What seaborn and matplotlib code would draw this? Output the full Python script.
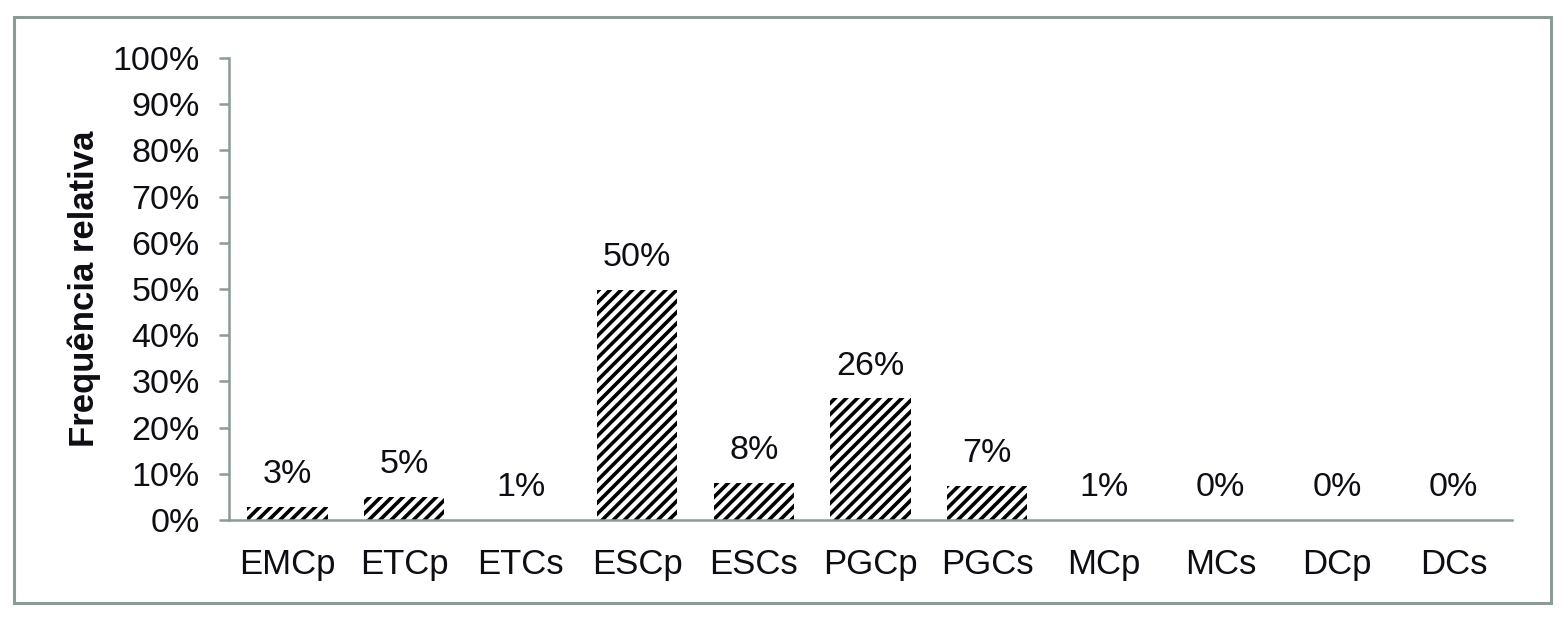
#!/usr/bin/env python3
"""Relative frequency bar chart with hatched bars."""

import matplotlib

matplotlib.use("Agg")

import matplotlib.pyplot as plt
import numpy as np
import seaborn as sns
from matplotlib.patches import Rectangle
from matplotlib.ticker import FixedLocator, PercentFormatter

categories = ["EMCp", "ETCp", "ETCs", "ESCp", "ESCs", "PGCp", "PGCs", "MCp", "MCs", "DCp", "DCs"]
values = [2.8, 5.0, 0.1, 49.8, 8.0, 26.3, 7.4, 0.1, 0.0, 0.0, 0.0]
value_labels = ["3%", "5%", "1%", "50%", "8%", "26%", "7%", "1%", "0%", "0%", "0%"]
y_ticks = list(range(0, 101, 10))

AXIS_GREY = "#8c9a98"
TEXT = "#0d0d14"

sns.set_style("white")
plt.rcParams["font.family"] = ["Liberation Sans", "DejaVu Sans"]
plt.rcParams["hatch.linewidth"] = 2.6
plt.rcParams["hatch.color"] = "black"

fig = plt.figure(figsize=(15.68, 6.2), dpi=100)
ax = fig.add_axes([229 / 1568, 100 / 620, 1283 / 1568, 462 / 620])

sns.barplot(
    x=categories,
    y=values,
    color="white",
    edgecolor="black",
    linewidth=0,
    width=0.69,
    hatch="///",
    saturation=1,
    ax=ax,
)

ax.bar_label(ax.containers[0], labels=value_labels, padding=12, fontsize=24.5, color=TEXT)

ax.set_xlim(-0.5, len(categories) - 0.5)
ax.set_ylim(0, 100)
ax.set_yticks(y_ticks)
ax.yaxis.set_major_formatter(PercentFormatter(decimals=0))

# Category boundaries get the small tick marks, labels sit in between
ax.xaxis.set_minor_locator(FixedLocator(np.arange(-0.5, len(categories), 1.0)))
ax.tick_params(axis="x", which="major", length=0, pad=20, labelsize=25, labelcolor=TEXT)
ax.tick_params(axis="x", which="minor", length=5, width=1.8, color=AXIS_GREY, direction="out")
ax.tick_params(axis="y", length=7, width=1.8, color=AXIS_GREY, direction="out", pad=14,
               labelsize=24.5, labelcolor=TEXT, left=True)

for side in ["top", "right"]:
    ax.spines[side].set_visible(False)
for side in ["left", "bottom"]:
    ax.spines[side].set_color(AXIS_GREY)
    ax.spines[side].set_linewidth(1.8)

ax.set_xlabel("")
ax.set_ylabel("Frequência relativa", fontsize=25, fontweight="bold", color=TEXT)
ax.yaxis.set_label_coords(-0.1, 0.5)

# Outer chart frame
fig.patches.append(
    Rectangle((14 / 1568, 17 / 620), 1537 / 1568, 586 / 620, transform=fig.transFigure,
              fill=False, edgecolor=AXIS_GREY, linewidth=2.2)
)

fig.savefig("out.png", dpi=100)
plt.close(fig)
